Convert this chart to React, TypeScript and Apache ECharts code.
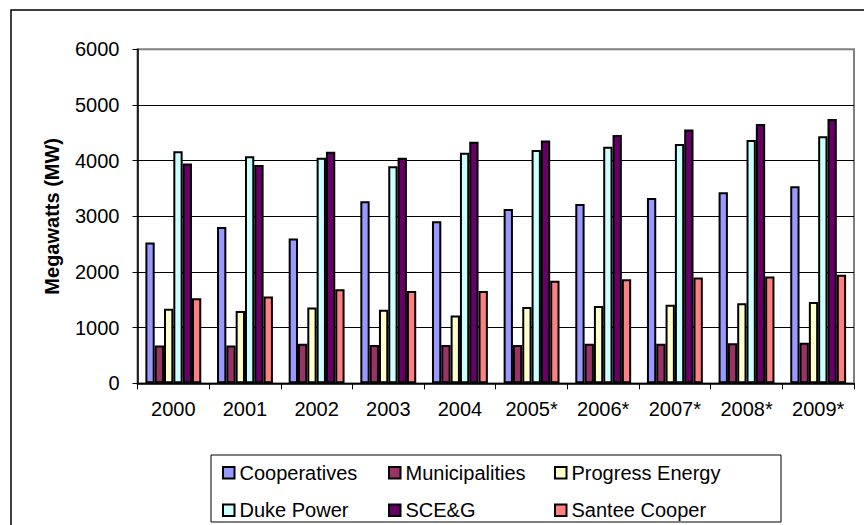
import React, { useEffect, useRef } from "react";
import * as echarts from "echarts";

// Installed generation capacity by utility, in megawatts
const years = ["2000", "2001", "2002", "2003", "2004", "2005*", "2006*", "2007*", "2008*", "2009*"];

const cooperatives = [2530, 2810, 2600, 3270, 2910, 3130, 3220, 3330, 3430, 3540];
const municipalities = [680, 680, 710, 690, 690, 690, 710, 710, 720, 730];
const progressEnergy = [1340, 1300, 1360, 1320, 1220, 1370, 1390, 1410, 1440, 1460];
const dukePower = [4170, 4080, 4050, 3900, 4140, 4190, 4250, 4300, 4370, 4440];
const sceg = [3950, 3920, 4160, 4050, 4340, 4360, 4460, 4560, 4660, 4750];
const santeeCooper = [1530, 1560, 1690, 1660, 1660, 1840, 1870, 1900, 1920, 1950];

const seriesNames = ["Cooperatives", "Municipalities", "Progress Energy", "Duke Power", "SCE&G", "Santee Cooper"];
const seriesData = [cooperatives, municipalities, progressEnergy, dukePower, sceg, santeeCooper];
const seriesColors = ["#9999FF", "#993366", "#FFFFCC", "#CCFFFF", "#660066", "#FF8080"];

const FONT = "Liberation Sans";

export default function App() {
  const ref = useRef<HTMLDivElement>(null);

  useEffect(() => {
    if (!ref.current) return;
    const chart = echarts.init(ref.current, undefined, { renderer: "svg" });

    chart.setOption({
      animation: false,
      backgroundColor: "#ffffff",
      textStyle: { fontFamily: FONT },
      grid: {
        left: 137.5,
        right: 10,
        top: 49.3,
        bottom: 141.7,
        show: true,
        borderColor: "#808080",
        borderWidth: 2,
        backgroundColor: "transparent",
      },
      xAxis: {
        type: "category",
        data: years,
        axisLine: { show: true, lineStyle: { color: "#000", width: 1.5 } },
        axisTick: { show: true, length: 6, lineStyle: { color: "#000", width: 1 } },
        axisLabel: { color: "#000", fontSize: 20, fontFamily: FONT, margin: 16 },
        splitLine: { show: false },
      },
      yAxis: {
        type: "value",
        min: 0,
        max: 6000,
        interval: 1000,
        name: "Megawatts (MW)",
        nameLocation: "middle",
        nameGap: 76,
        nameTextStyle: { color: "#000", fontSize: 20, fontWeight: "bold", fontFamily: FONT },
        axisLine: { show: true, lineStyle: { color: "#000", width: 1.5 } },
        axisTick: { show: true, length: 5, lineStyle: { color: "#000", width: 1 } },
        axisLabel: {
          color: "#000",
          fontSize: 20,
          fontFamily: FONT,
          margin: 18,
          formatter: (v: number) => String(v),
        },
        splitLine: { show: true, showMaxLine: false, lineStyle: { color: "#000", width: 1 } },
      },
      legend: {
        data: seriesNames,
        orient: "horizontal",
        left: 222,
        top: 459,
        width: 520,
        padding: 0,
        itemGap: 10,
        itemWidth: 11.5,
        itemHeight: 11.5,
        icon: "rect",
        selectedMode: false,
        textStyle: {
          color: "#000",
          fontSize: 20,
          fontFamily: FONT,
          width: 138.5,
          lineHeight: 27.5,
        },
      },
      graphic: [
        {
          type: "rect",
          silent: true,
          shape: { x: 11, y: 10, width: 900, height: 600 },
          style: { fill: "none", stroke: "#000", lineWidth: 1.5 },
        },
        {
          type: "rect",
          silent: true,
          shape: { x: 211, y: 455, width: 570, height: 67 },
          style: { fill: "none", stroke: "#000", lineWidth: 1 },
        },
      ],
      series: seriesNames.map((name, i) => ({
        type: "bar",
        name,
        data: seriesData[i],
        barGap: "0%",
        barCategoryGap: "22%",
        itemStyle: { color: seriesColors[i], borderColor: "#000", borderWidth: 2 },
      })),
    });

    return () => chart.dispose();
  }, []);

  return (
    <div
      ref={ref}
      style={{ position: "absolute", left: 0, top: 0, width: 864, height: 525 }}
    />
  );
}
